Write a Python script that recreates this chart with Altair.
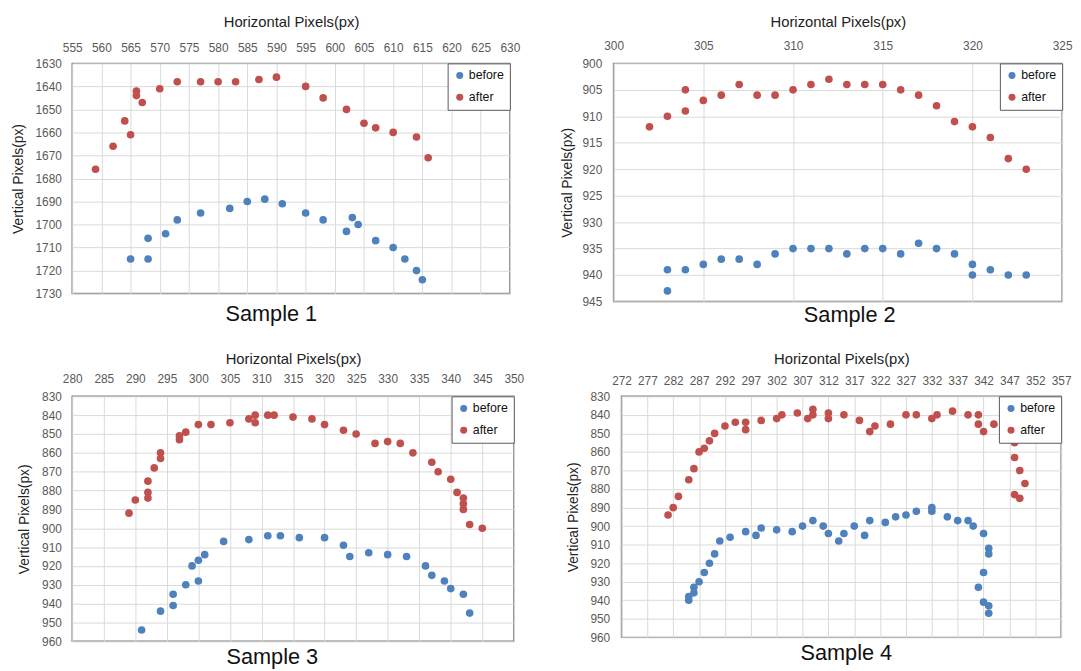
import altair as alt
import pandas as pd

# ---------------- data ----------------
s1_before_x = [565, 568, 568, 571, 573, 577, 582, 585, 588, 591, 595, 598, 602, 603, 604, 607, 610, 612, 614, 615]
s1_before_y = [1715, 1706, 1715, 1704, 1698, 1695, 1693, 1690, 1689, 1691, 1695, 1698, 1703, 1697, 1700, 1707, 1710, 1715, 1720, 1724]
s1_after_x = [559, 562, 564, 565, 566, 566, 567, 570, 573, 577, 580, 583, 587, 590, 595, 598, 602, 605, 607, 610, 614, 616]
s1_after_y = [1676, 1666, 1655, 1661, 1642, 1644, 1647, 1641, 1638, 1638, 1638, 1638, 1637, 1636, 1640, 1645, 1650, 1656, 1658, 1660, 1662, 1671]

s2_before_x = [303, 303, 304, 305, 306, 307, 308, 309, 310, 311, 312, 313, 314, 315, 316, 317, 318, 319, 320, 320, 321, 322, 323]
s2_before_y = [939, 943, 939, 938, 937, 937, 938, 936, 935, 935, 935, 936, 935, 935, 936, 934, 935, 936, 938, 940, 939, 940, 940]
s2_after_x = [302, 303, 304, 304, 305, 306, 307, 308, 309, 310, 311, 312, 313, 314, 315, 316, 317, 318, 319, 320, 321, 322, 323]
s2_after_y = [912, 910, 905, 909, 907, 906, 904, 906, 906, 905, 904, 903, 904, 904, 904, 905, 906, 908, 911, 912, 914, 918, 920]

s3_before_x = [291, 294, 296, 296, 298, 300, 299, 300, 301, 304, 308, 311, 313, 316, 320, 323, 324, 327, 330, 333, 336, 337, 339, 340, 342, 343]
s3_before_y = [954, 944, 941, 935, 930, 928, 920, 917, 914, 907, 906, 904, 904, 905, 905, 909, 915, 913, 914, 915, 920, 925, 928, 932, 935, 945]
s3_after_x = [289, 290, 292, 292, 292, 293, 294, 294, 297, 297, 298, 300, 302, 305, 308, 309, 309, 311, 312, 315,
              318, 320, 323, 325, 328, 330, 332, 334, 337, 338, 340, 341, 342, 342, 342, 343, 345]
s3_after_y = [892, 885, 875, 881, 884, 868, 860, 863, 851, 853, 849, 845, 845, 844, 842, 840, 844, 840, 840, 841,
              842, 845, 848, 850, 855, 854, 855, 860, 865, 870, 874, 881, 884, 887, 890, 898, 900]

s4_before_x = [285, 285, 286, 286, 287, 288, 289, 290, 291, 293, 296, 298, 299, 302, 305, 307, 309, 311, 312, 314,
               315, 317, 319, 320, 323, 325, 327, 329, 332, 332, 335, 337, 339, 340, 342, 343, 343, 342, 341, 342, 343, 343]
s4_before_y = [940, 938, 933, 936, 930, 925, 920, 915, 908, 906, 903, 905, 901, 902, 903, 900, 897, 900, 904, 908,
               904, 900, 905, 897, 898, 895, 894, 892, 890, 892, 895, 897, 897, 900, 904, 912, 915, 925, 933, 941, 943, 947]
s4_after_x = [281, 282, 283, 285, 286, 287, 288, 289, 290, 292, 294, 296, 296, 299, 302, 303, 306, 308, 309, 309,
              312, 312, 315, 318, 320, 321, 324, 327, 329, 332, 333, 336, 339, 341, 341, 342, 344, 346, 347, 348,
              348, 349, 350, 348, 349]
s4_after_y = [894, 890, 884, 875, 869, 860, 858, 854, 850, 846, 844, 844, 848, 843, 842, 840, 839, 842, 840, 837,
              839, 842, 840, 843, 849, 846, 845, 840, 840, 842, 840, 838, 840, 840, 845, 849, 845, 850, 850, 855,
              863, 870, 877, 883, 885]

series_names = ["before", "after"]
captions = ["Sample 1", "Sample 2", "Sample 3", "Sample 4"]
x_domains = [[555, 630], [300, 325], [280, 350], [272, 357]]
x_ticks = [list(range(555, 631, 5)), list(range(300, 326, 5)), list(range(280, 351, 5)), list(range(272, 358, 5))]
y_domains = [[1630, 1730], [900, 945], [830, 960], [830, 960]]
y_ticks = [list(range(1630, 1731, 10)), list(range(900, 946, 5)), list(range(830, 961, 10)), list(range(830, 961, 10))]

FONT = "Liberation Sans"
BLUE = "#4F81BD"
RED = "#C0504D"


def make_df(bx, by, ax, ay):
    return pd.DataFrame({
        "x": bx + ax,
        "y": by + ay,
        "series": [series_names[0]] * len(bx) + [series_names[1]] * len(ax),
    })


def panel(df, i, w, h, xlp, xtp, ylp, ytp, cap_off, cap_dx, cap_dy):
    return alt.Chart(df).mark_circle(size=60, opacity=1).encode(
        x=alt.X("x:Q",
                scale=alt.Scale(domain=x_domains[i], nice=False, zero=False),
                axis=alt.Axis(orient="top", values=x_ticks[i], title="Horizontal Pixels(px)", format="d",
                              labelPadding=xlp, titlePadding=xtp, labelOverlap=False, labelFlush=False,
                              titleFontSize=15)),
        y=alt.Y("y:Q",
                scale=alt.Scale(domain=y_domains[i], nice=False, zero=False, reverse=True),
                axis=alt.Axis(values=y_ticks[i], title="Vertical Pixels(px)", format="d",
                              labelPadding=ylp, titlePadding=ytp, labelOverlap=False, labelFlush=False,
                              titleFontSize=14)),
        color=alt.Color("series:N",
                        scale=alt.Scale(domain=series_names, range=[BLUE, RED]),
                        legend=alt.Legend(title=None, orient="top-right", offset=0)),
    ).properties(
        width=w, height=h,
        title=alt.TitleParams(captions[i], orient="bottom", anchor="middle", frame="group",
                              fontSize=22, fontWeight="normal", font=FONT, color="#111111",
                              offset=cap_off, dx=cap_dx, dy=cap_dy),
    )


p1 = panel(make_df(s1_before_x, s1_before_y, s1_after_x, s1_after_y), 0, 443, 233, 9, 12, 11, 10, 5, -20, 0)
p2 = panel(make_df(s2_before_x, s2_before_y, s2_after_x, s2_after_y), 1, 454, 241, 11, 10, 12, 8, 0, 12, -2)
p3 = panel(make_df(s3_before_x, s3_before_y, s3_after_x, s3_after_y), 2, 447, 248, 11, 6, 11, 10, 0, -21, 0)
p4 = panel(make_df(s4_before_x, s4_before_y, s4_after_x, s4_after_y), 3, 445, 244, 9, 8, 12, 10, 0, 5, 0)

row1 = alt.hconcat(p1, p2, spacing=39).resolve_scale(color="independent").resolve_legend(color="independent")
row2 = alt.hconcat(p3, p4, spacing=41).resolve_scale(color="independent").resolve_legend(color="independent")

chart = alt.vconcat(row1, row2, spacing=24).resolve_scale(color="independent").resolve_legend(
    color="independent"
).properties(
    padding={"left": 2, "top": 2, "right": 0, "bottom": 0},
    background="white",
).configure_view(
    stroke="#7F7F7F", strokeWidth=1.5
).configure_axis(
    grid=True, gridColor="#D9D9D9", gridWidth=1, domain=False, ticks=False, tickSize=0,
    labelFont=FONT, labelFontSize=12, labelColor="#595959",
    titleFont=FONT, titleFontWeight="normal", titleColor="#222222",
).configure_legend(
    padding=6, strokeColor="#595959", fillColor="white", labelFont=FONT, labelFontSize=12.5,
    labelColor="#111111", symbolType="circle", symbolSize=50, symbolStrokeWidth=0, rowPadding=9,
    labelOffset=3,
)

chart.save("out.html", embed_options={"renderer": "svg", "actions": False})
